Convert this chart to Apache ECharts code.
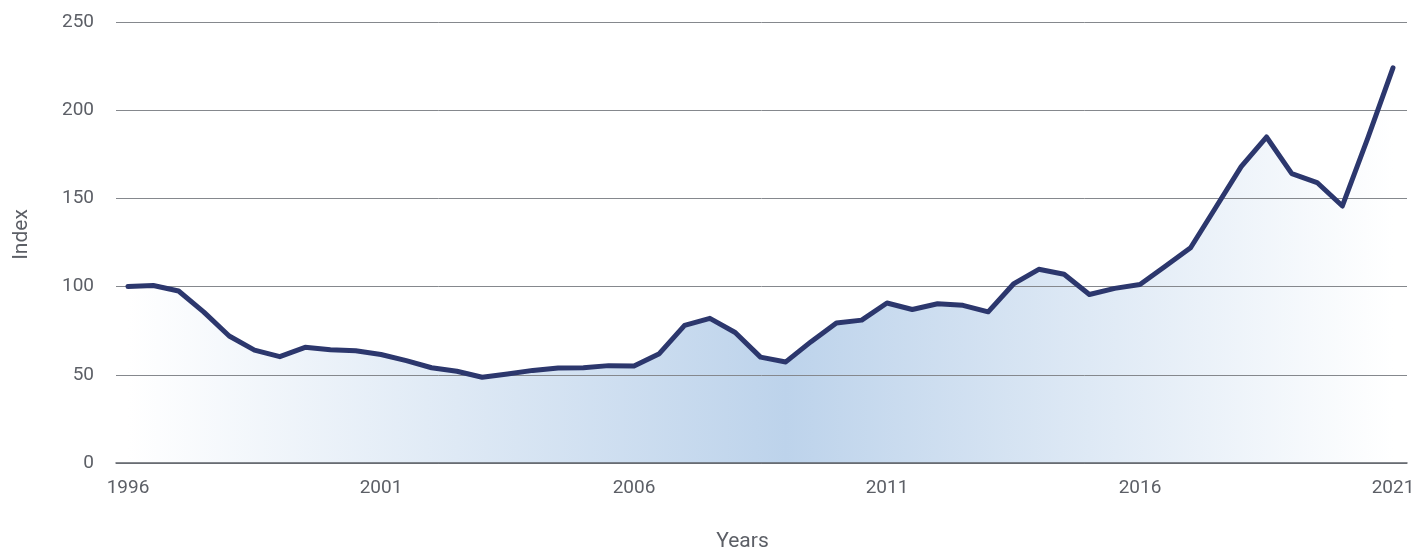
<!DOCTYPE html>
<html>
<head>
<meta charset="utf-8">
<script src="https://cdn.jsdelivr.net/npm/echarts@6/dist/echarts.min.js"></script>
<style>
  html, body { margin: 0; padding: 0; background: #ffffff; }
  #chart { width: 1418px; height: 552px; }
</style>
</head>
<body>
<div id="chart"></div>
<script>
// Half-yearly observations, 1996 to 2021
const periods = [
  1996, 1996.5, 1997, 1997.5, 1998, 1998.5, 1999, 1999.5, 2000, 2000.5,
  2001, 2001.5, 2002, 2002.5, 2003, 2003.5, 2004, 2004.5, 2005, 2005.5,
  2006, 2006.5, 2007, 2007.5, 2008, 2008.5, 2009, 2009.5, 2010, 2010.5,
  2011, 2011.5, 2012, 2012.5, 2013, 2013.5, 2014, 2014.5, 2015, 2015.5,
  2016, 2016.5, 2017, 2017.5, 2018, 2018.5, 2019, 2019.5, 2020, 2020.5,
  2021
];
const indexValues = [
  100, 100.6, 97.5, 85.5, 72, 64, 60.3, 65.6, 64.2, 63.6,
  61.5, 58, 54, 52, 48.6, 50.5, 52.5, 53.8, 54, 55.2,
  55, 62, 78, 82, 74, 60, 57.3, 68.8, 79.4, 81,
  90.7, 87, 90.3, 89.4, 85.7, 101.5, 109.8, 107, 95.5, 99,
  101.2, 111.5, 122, 145, 168, 184.8, 164, 159, 145.7, 184,
  224
];
const yearTicks = [1996, 2001, 2006, 2011, 2016, 2021];
const valueTicks = [0, 50, 100, 150, 200, 250];

const chart = echarts.init(document.getElementById('chart'), null, { renderer: 'canvas' });
const textColor = '#5c5f66';
const fontFamily = 'Roboto, "Noto Sans", sans-serif';
const points = periods.map((p, i) => [p, indexValues[i]]);

chart.setOption({
  animation: false,
  grid: { left: 116, right: 11, top: 22, bottom: 89, containLabel: false, outerBoundsMode: 'none' },
  xAxis: {
    type: 'value',
    min: 1995.763,
    max: 2021.277,
    z: 2,
    name: 'Years',
    nameLocation: 'middle',
    nameGap: 68,
    nameTextStyle: { color: textColor, fontSize: 21, fontFamily, padding: [0, 38, 0, 0] },
    axisLine: { show: true, lineStyle: { color: '#5f6369', width: 1.5 } },
    axisTick: { show: false },
    splitLine: { show: false },
    axisLabel: {
      customValues: yearTicks,
      color: textColor,
      fontSize: 19,
      fontFamily,
      margin: 16,
      formatter: v => String(v)
    }
  },
  yAxis: {
    type: 'value',
    min: valueTicks[0],
    max: valueTicks[valueTicks.length - 1],
    interval: 50,
    z: 2,
    name: 'Index',
    nameLocation: 'middle',
    nameGap: 84,
    nameRotate: 90,
    nameTextStyle: { color: textColor, fontSize: 21, fontFamily, padding: [0, 0, 0, 16] },
    axisLine: { show: false },
    axisTick: { show: false },
    axisLabel: { color: textColor, fontSize: 19, fontFamily, margin: 22 },
    splitLine: { show: true, lineStyle: { color: '#85888d', width: 1 } }
  },
  series: [
    {
      // shaded area under the index, drawn beneath the grid lines
      type: 'line',
      data: points,
      symbol: 'none',
      lineStyle: { width: 0 },
      areaStyle: {
        origin: 'start',
        opacity: 1,
        color: new echarts.graphic.LinearGradient(0, 0, 1, 0, [
          { offset: 0, color: '#ffffff' },
          { offset: 0.52, color: '#bdd3eb' },
          { offset: 1, color: '#ffffff' }
        ])
      },
      silent: true,
      z: 1
    },
    {
      // index line on top
      type: 'line',
      data: points,
      symbol: 'none',
      lineStyle: { color: '#2c376d', width: 5, cap: 'round', join: 'round' },
      z: 3
    }
  ]
});
</script>
</body>
</html>
